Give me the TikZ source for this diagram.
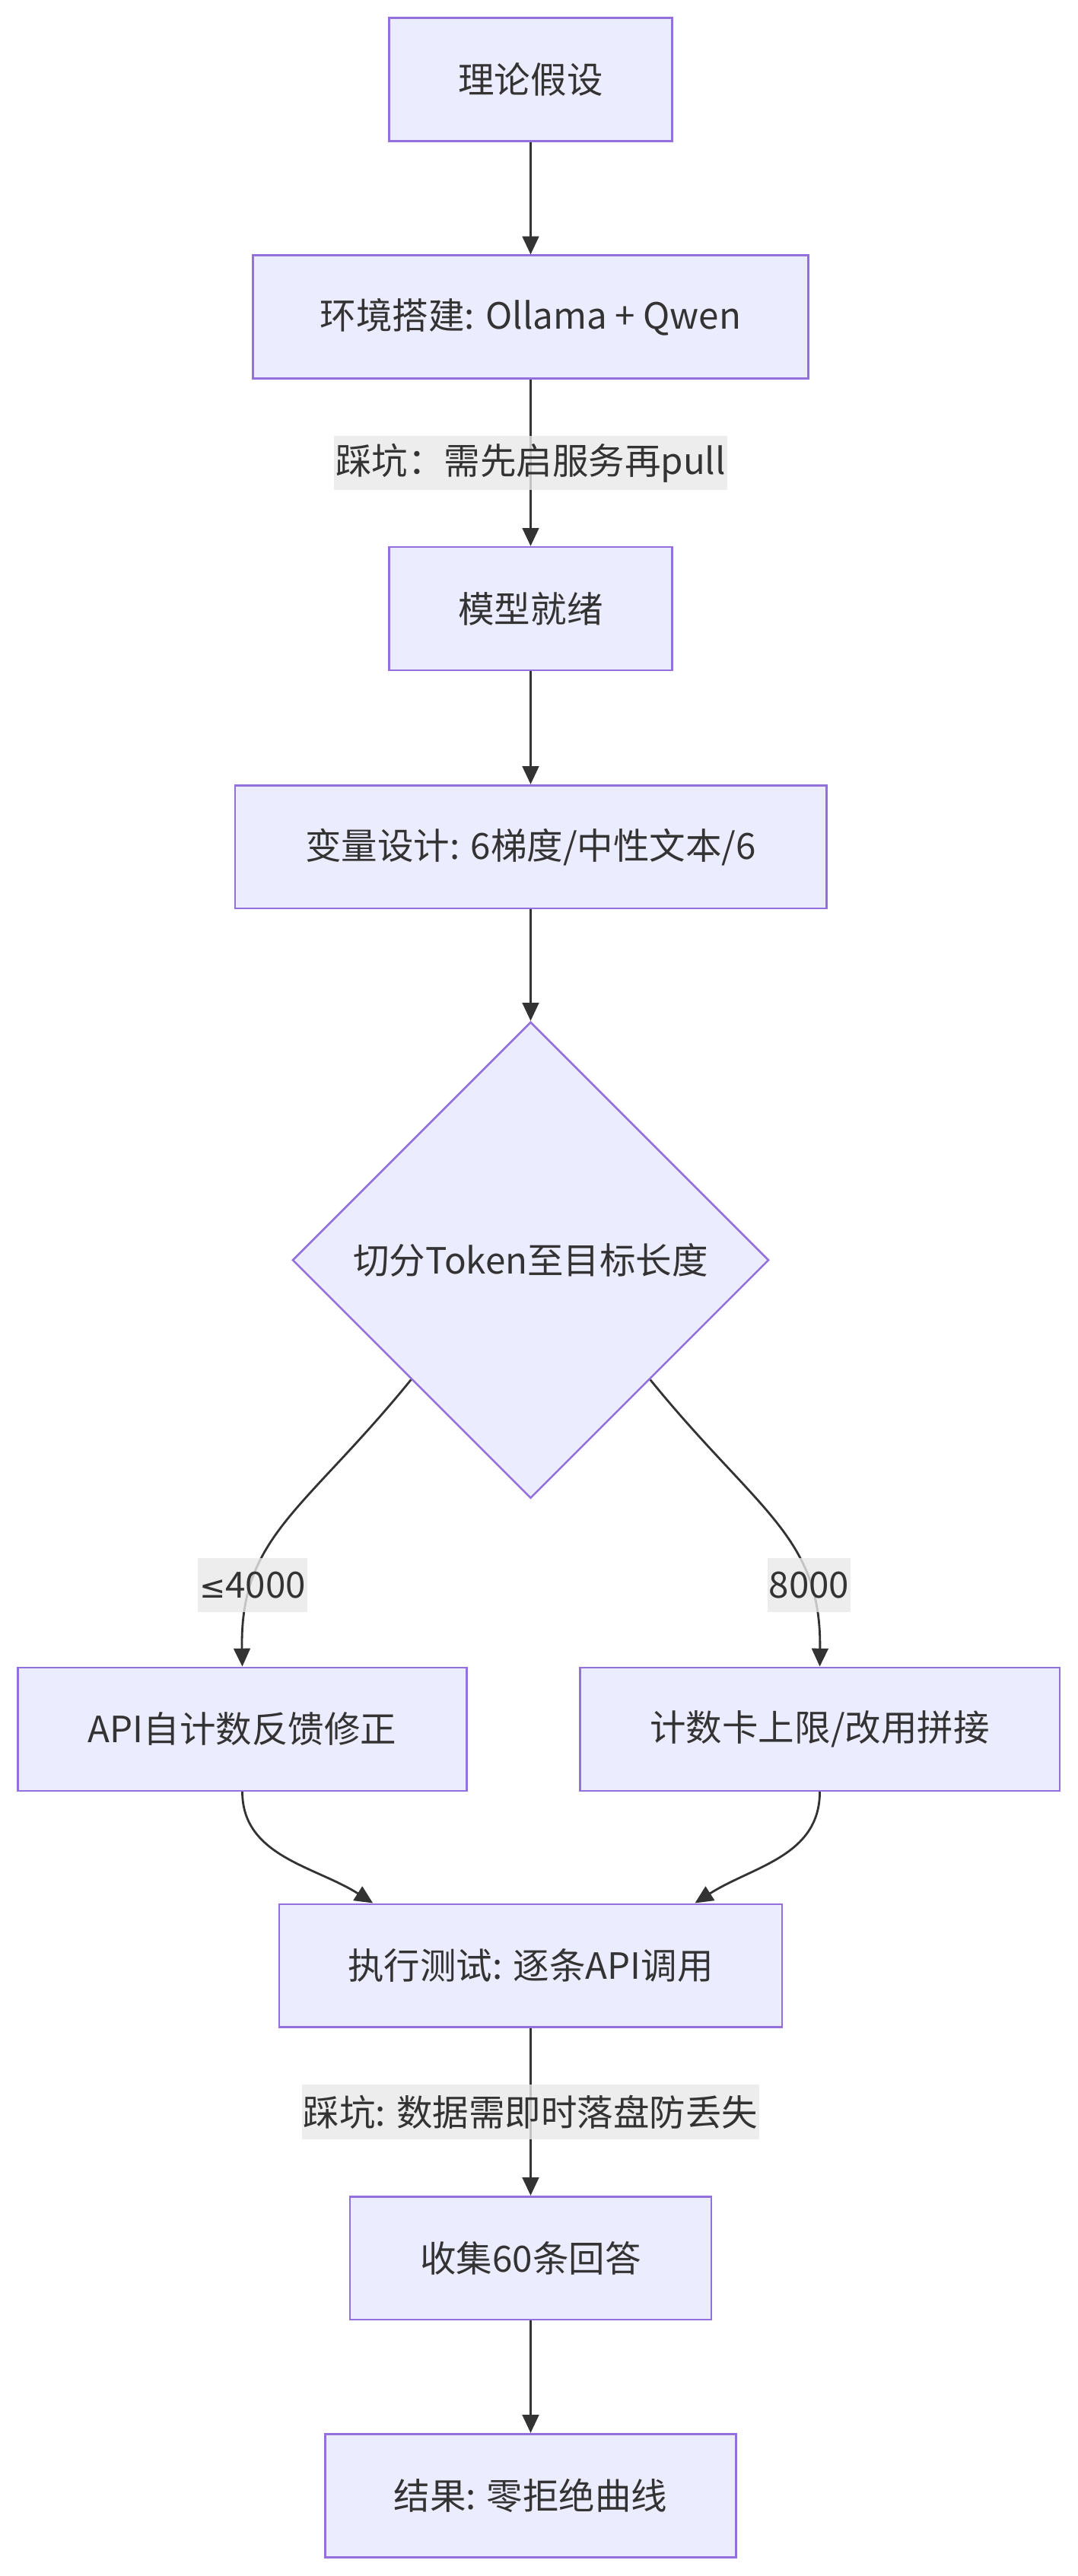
\documentclass[tikz,border=0pt]{standalone}
\usepackage{fontspec}
\setmainfont{Noto Sans CJK SC}
\newfontfamily\mathsymfont{DejaVu Sans}
\usetikzlibrary{shapes.geometric}
\usetikzlibrary{arrows.meta}
\usetikzlibrary{positioning,calc}
\definecolor{nodefill}{HTML}{ECECFF}
\definecolor{nodeline}{HTML}{9370DB}
\definecolor{inkgray}{HTML}{333333}
\definecolor{labelgray}{HTML}{E8E8E8}

\begin{document}
\begin{tikzpicture}[x=1pt,y=-1pt,%
         stage/.style = {draw=nodeline,fill=nodefill,line width=1.2pt,
            inner sep=0pt,minimum height=75pt,text=inkgray,
            font=\fontsize{22}{26}\selectfont},
         branch/.style = {stage,diamond,aspect=1,minimum width=290pt,
            minimum height=290pt},
         note/.style = {fill=labelgray,fill opacity=0.8,text opacity=1,
            text=inkgray,inner xsep=1pt,inner ysep=0pt,minimum height=33pt,
            font=\fontsize{22}{26}\selectfont},
         flow/.style = {draw=inkgray,line width=1.3pt,
            -{Triangle[length=11pt,width=10pt]}}
]
   \useasboundingbox (0,0) rectangle (656,1568);

   \node[stage,minimum width=172pt] (hyp)     at (323,  48.5) {理论假设};
   \node[stage,minimum width=338pt] (env)     at (323, 193)   {环境搭建: Ollama + Qwen};
   \node[stage,minimum width=172pt] (ready)   at (323, 370.5) {模型就绪};
   \node[stage,minimum width=360pt] (vars)    at (323, 515.5) {变量设计: 6梯度/中性文本/6};
   \node[branch]                    (split)   at (323, 767)   {切分Token至目标长度};
   \node[stage,minimum width=273pt] (selfcnt) at (147.5,1052.5) {API自计数反馈修正};
   \node[stage,minimum width=292pt] (capcnt)  at (499, 1052.5) {计数卡上限/改用拼接};
   \node[stage,minimum width=306pt] (run)     at (323, 1196.5) {执行测试: 逐条API调用};
   \node[stage,minimum width=220pt] (collect) at (323, 1374.5) {收集60条回答};
   \node[stage,minimum width=250pt] (result)  at (323, 1519)   {结果: 零拒绝曲线};

   \draw[flow] (hyp) -- (env);
   \draw[flow] (env) -- node[note] (pit1) {踩坑：需先启服务再pull} (ready);
   \draw[flow] (ready) -- (vars);
   \draw[flow] (vars) -- (split);
   % two branches out of the diamond
   \draw[flow] (split.south west) .. controls (185,920) and (146,935) ..
      node[note,pos=0.75] (low) {{\mathsymfont\fontsize{19}{26}\selectfont ≤}4000} (selfcnt.north);
   \draw[flow] (split.south east) .. controls (461,920) and (500,935) ..
      node[note,pos=0.75] (high) {8000} (capcnt.north);
   % and back together
   \draw[flow] (selfcnt.south) .. controls (147.5,1130) and (192,1136) ..
      ([xshift=-96pt]run.north);
   \draw[flow] (capcnt.south) .. controls (499,1130) and (458,1136) ..
      ([xshift=100pt]run.north);
   \draw[flow] (run) -- node[note] (pit2) {踩坑: 数据需即时落盘防丢失} (collect);
   \draw[flow] (collect) -- (result);
\end{tikzpicture}
\end{document}
